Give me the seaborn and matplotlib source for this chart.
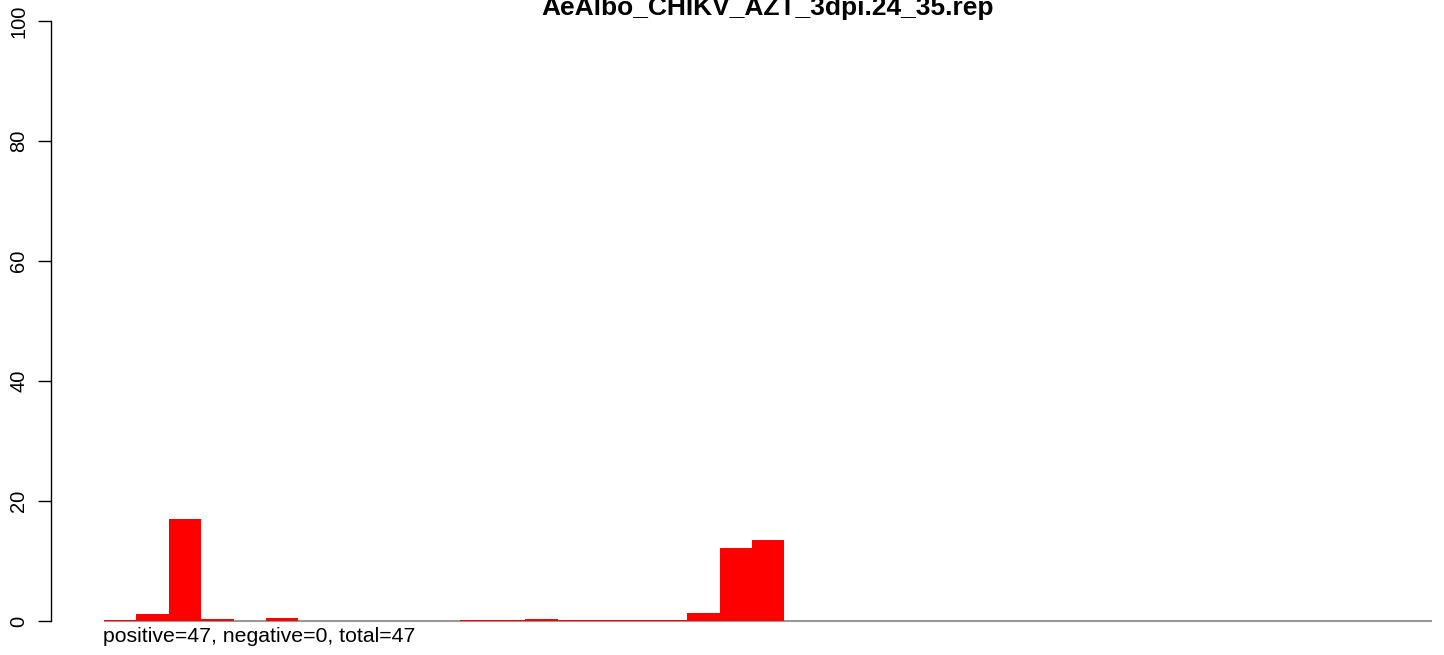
import numpy as np
import pandas as pd
import matplotlib
matplotlib.use("Agg")
import matplotlib.pyplot as plt
import seaborn as sns

# data
title = "AeAlbo_CHIKV_AZT_3dpi.24_35.rep"
bin_values = [0.15, 1.1, 17.0, 0.3, 0.0, 0.5, 0.0, 0.0, 0.0, 0.0, 0.0,
              0.15, 0.15, 0.35, 0.15, 0.15, 0.15, 0.15, 1.4, 12.2, 13.5,
              0.0, 0.0, 0.0, 0.0, 0.0, 0.0, 0.0, 0.0, 0.0, 0.0,
              0.0, 0.0, 0.0, 0.0, 0.0, 0.0, 0.0, 0.0, 0.0, 0.0]
y_ticks = [0, 20, 40, 60, 80, 100]
counts_note = "positive=47, negative=0, total=47"

df = pd.DataFrame({"bin": np.arange(len(bin_values)), "value": bin_values})

sns.set_style("white")
plt.rcParams['font.family'] = ['Liberation Sans', 'DejaVu Sans']
plt.rcParams['text.color'] = 'black'
plt.rcParams['ytick.color'] = 'black'
plt.rcParams['ytick.labelcolor'] = 'black'

W, H = 1444, 655
fig = plt.figure(figsize=(W / 100, H / 100), dpi=100)
ax = fig.add_axes([51 / W, 34 / H, (W - 51) / W, 600 / H])

sns.barplot(data=df, x="bin", y="value", color="#ff0000", saturation=1,
            width=1, linewidth=0, ax=ax, order=list(df["bin"]), zorder=2)

n = len(bin_values)
ax.hlines(0, -0.5, n - 0.5, color="#999999", lw=1.5, zorder=1, clip_on=False)

ax.set_ylim(0, 100)
ax.set_xlim(-0.5 - 53 / 32.4, -0.5 + 1340 / 32.4)
ax.set_yticks(y_ticks)
ax.set_yticklabels([str(t) for t in y_ticks], rotation=90, va="center", fontsize=14.5)
ax.tick_params(axis="y", direction="out", length=9.5, width=1, pad=7,
               left=True, color="black", labelcolor="black")
ax.set_xticks([])
ax.set_xlabel("")
ax.set_ylabel("")
for s in ["top", "right", "bottom"]:
    ax.spines[s].set_visible(False)
ax.spines["left"].set_color("black")
ax.spines["left"].set_linewidth(1)

fig.text(103 / W, 13.5 / H, counts_note, ha="left", va="baseline",
         fontsize=15.3, color="black")

fig.text(768 / W, 1 - 15 / H, title, ha="center", va="baseline",
         fontsize=19, fontweight="bold", color="black")

fig.savefig("out.png", dpi=100)
